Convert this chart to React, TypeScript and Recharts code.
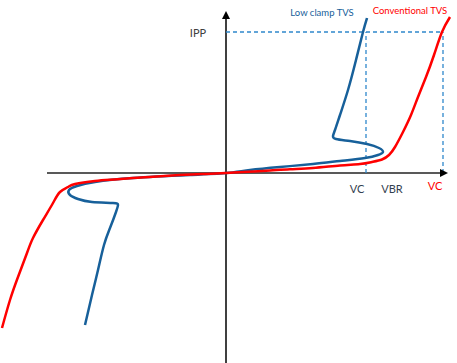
import React from "react";
import {
  LineChart,
  Line,
  XAxis,
  YAxis,
  ReferenceLine,
  ReferenceDot,
} from "recharts";

// I-V curves (voltage, current) in arbitrary units, origin at 0,0
const lowClampV = [14.1, 13.7, 13.0, 12.2, 11.4, 10.9, 10.7, 11.0, 12.4, 14.1, 15.3, 15.7, 15.2, 13.9, 11.4, 8.7, 5.4, 2.4, 0, -3.6, -9.3, -13.1, -14.9, -15.7, -15.6, -14.8, -13.4, -11.3, -10.8, -11.0, -11.6, -12.2, -12.8, -13.4, -14.1];
const lowClampI = [15.5, 14.1, 11.3, 8.3, 5.8, 4.3, 3.7, 3.4, 3.2, 2.9, 2.5, 2.1, 1.8, 1.5, 1.2, 0.9, 0.6, 0.3, 0, -0.2, -0.5, -0.9, -1.3, -1.7, -2.2, -2.6, -2.9, -3.0, -3.2, -3.9, -5.5, -7.2, -9.7, -12.2, -15.2];

const convV = [22.4, 21.6, 20.8, 20.0, 19.2, 18.5, 17.7, 16.9, 16.3, 15.6, 14.6, 13.4, 11.4, 8.7, 6.4, 4.4, 2.2, 0, -2.3, -4.6, -6.9, -9.3, -11.2, -13.1, -15.1, -15.8, -16.6, -17.3, -18.3, -19.3, -19.9, -20.8, -21.6, -22.4];
const convI = [15.6, 14.1, 11.8, 9.6, 7.6, 5.8, 4.1, 2.6, 1.8, 1.35, 1.1, 0.9, 0.75, 0.5, 0.38, 0.25, 0.12, 0, -0.1, -0.2, -0.34, -0.5, -0.65, -0.8, -1.1, -1.4, -1.9, -3.0, -4.7, -6.5, -8.0, -10.4, -12.7, -15.5];

const ipp = 14.1;
const vcLow = 14.0;
const vbr = 16.6;
const vcConv = 21.7;
const axisLeft = -17.9;
const axisRight = 22.2;
const axisTop = 16.2;

const lowClampData = lowClampV.map((v, i) => ({ v, i: lowClampI[i] }));
const convData = convV.map((v, i) => ({ v, i: convI[i] }));

const BLUE = "#17609a";
const RED = "#ff0000";
const DASH = "#2f88cc";
const FONT = "Lato, 'Open Sans', sans-serif";

const textShape =
  (text: string, color: string, size: number, dy: number) => (p: any) =>
    (
      <text
        x={p.cx}
        y={p.cy + dy}
        textAnchor="middle"
        dominantBaseline="central"
        fill={color}
        fontSize={size}
        fontFamily={FONT}
      >
        {text}
      </text>
    );

const rightArrow = (p: any) => (
  <polygon
    points={`${p.cx},${p.cy} ${p.cx - 8},${p.cy - 4} ${p.cx - 8},${p.cy + 4}`}
    fill="#000"
  />
);

const upArrow = (p: any) => (
  <polygon
    points={`${p.cx},${p.cy} ${p.cx - 4},${p.cy + 8} ${p.cx + 4},${p.cy + 8}`}
    fill="#000"
  />
);

export default function App() {
  return (
    <div style={{ position: "absolute", left: 0, top: 0, background: "#fff" }}>
      <LineChart
        width={457}
        height={363}
        margin={{ top: 0, right: 0, bottom: 0, left: 0 }}
      >
        <XAxis
          type="number"
          dataKey="v"
          domain={[-22.6, 23.1]}
          allowDataOverflow
          hide
        />
        <YAxis
          type="number"
          dataKey="i"
          domain={[-19, 17.3]}
          allowDataOverflow
          hide
        />
        <ReferenceLine
          segment={[
            { x: axisLeft, y: 0 },
            { x: axisRight - 0.5, y: 0 },
          ]}
          stroke="#595959"
          strokeWidth={2}
        />
        <ReferenceLine
          segment={[
            { x: 0, y: -19 },
            { x: 0, y: axisTop - 0.5 },
          ]}
          stroke="#000"
          strokeWidth={1.5}
        />
        <ReferenceDot x={axisRight} y={0} shape={rightArrow} />
        <ReferenceDot x={0} y={axisTop} shape={upArrow} />
        <ReferenceLine
          segment={[
            { x: 0, y: ipp },
            { x: vcConv, y: ipp },
          ]}
          stroke={DASH}
          strokeWidth={1.3}
          strokeDasharray="4 3"
        />
        <ReferenceLine
          segment={[
            { x: vcLow, y: 0 },
            { x: vcLow, y: ipp },
          ]}
          stroke={DASH}
          strokeWidth={1.3}
          strokeDasharray="4 3"
        />
        <ReferenceLine
          segment={[
            { x: vcConv, y: 0 },
            { x: vcConv, y: ipp },
          ]}
          stroke={DASH}
          strokeWidth={1.3}
          strokeDasharray="4 3"
        />
        <Line
          data={lowClampData}
          dataKey="i"
          type="natural"
          stroke={BLUE}
          strokeWidth={2.5}
          dot={false}
          activeDot={false}
          isAnimationActive={false}
        />
        <Line
          data={convData}
          dataKey="i"
          type="natural"
          stroke={RED}
          strokeWidth={2.5}
          dot={false}
          activeDot={false}
          isAnimationActive={false}
        />
        <ReferenceDot x={-2.8} y={ipp} shape={textShape("IPP", "#404040", 11, 0)} />
        <ReferenceDot x={vcLow - 0.9} y={0} shape={textShape("VC", "#333f50", 11, 15)} />
        <ReferenceDot x={vbr} y={0} shape={textShape("VBR", "#333f50", 11, 15)} />
        <ReferenceDot x={vcConv - 0.8} y={0} shape={textShape("VC", RED, 11, 12)} />
        <ReferenceDot x={9.6} y={ipp} shape={textShape("Low clamp TVS", BLUE, 9.5, -20)} />
        <ReferenceDot x={18.4} y={ipp} shape={textShape("Conventional TVS", RED, 9.5, -22)} />
      </LineChart>
    </div>
  );
}
